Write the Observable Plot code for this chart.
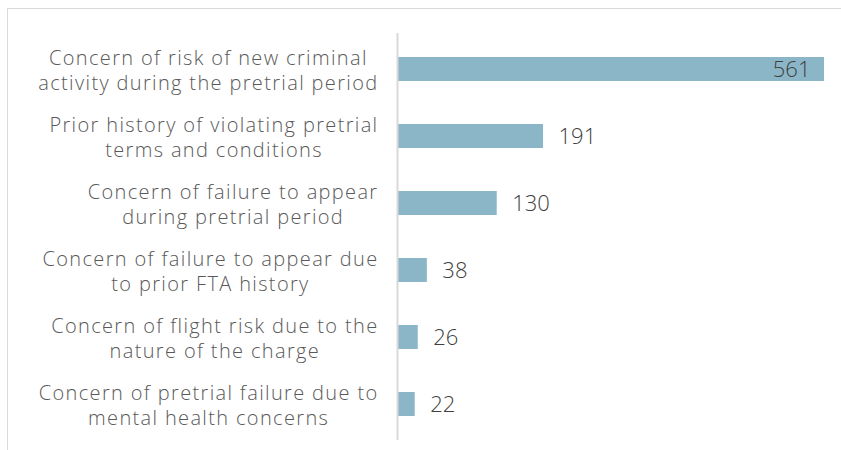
<!DOCTYPE html>
<html>
<head>
<meta charset="utf-8">
<script src="https://cdn.jsdelivr.net/npm/d3@7"></script>
<script src="https://cdn.jsdelivr.net/npm/@observablehq/plot@0.6"></script>
<style>
  html, body { margin: 0; padding: 0; background: #fff; }
  #wrap { position: relative; width: 841px; height: 450px; overflow: hidden; }
  #border { position: absolute; left: 7px; top: 8px; right: 0; bottom: 0;
            border-top: 1.5px solid #d9d9d9; border-left: 1.5px solid #d9d9d9; }
  #chart { position: absolute; left: 0; top: 0; }
  #chart g[aria-label="y-axis tick label"] { letter-spacing: 1.35px; }
</style>
</head>
<body>
<div id="wrap"><div id="border"></div><div id="chart"></div></div>
<script>
const categories = [
  "Concern of risk of new criminal\nactivity during the pretrial period",
  "Prior history of violating pretrial\nterms and conditions",
  "Concern of failure to appear\nduring pretrial period",
  "Concern of failure to appear due\nto prior FTA history",
  "Concern of flight risk due to the\nnature of the charge",
  "Concern of pretrial failure due to\nmental health concerns"
];
const values = [561, 191, 130, 38, 26, 22];

const data = categories.map((c, i) => ({category: c, value: values[i]}));
const FONT = "'Open Sans', sans-serif";

const chart = Plot.plot({
  width: 841,
  height: 450,
  marginLeft: 398,
  marginRight: 17,
  marginTop: 33,
  marginBottom: 10,
  style: {fontFamily: FONT, background: "transparent"},
  x: {domain: [0, 561], axis: null},
  y: {domain: categories, paddingInner: 0.645, paddingOuter: 0.3225, label: null},
  marks: [
    Plot.axisY({
      tickSize: 0,
      tickPadding: 20,
      fontSize: 20,
      lineHeight: 1.25,
      fill: "#595959",
      fontWeight: 300,
      label: null
    }),
    Plot.barX(data, {x: "value", y: "category", fill: "#8ab6c7"}),
    Plot.ruleX([0], {stroke: "#d9d9d9", strokeWidth: 2, dx: -1}),
    Plot.text(data.filter(d => d.value < 500), {
      x: "value", y: "category", text: d => String(d.value),
      textAnchor: "start", dx: 15, fontSize: 22, fill: "#404040", fontWeight: 300
    }),
    Plot.text(data.filter(d => d.value >= 500), {
      x: "value", y: "category", text: d => String(d.value),
      textAnchor: "end", dx: -14, fontSize: 22, fill: "#404040", fontWeight: 300
    })
  ]
});
document.getElementById("chart").appendChild(chart);

// Center the lines of each multi-line category label within its right-aligned block
chart.querySelectorAll('g[aria-label="y-axis tick label"] text').forEach(t => {
  const w = t.getBBox().width;
  t.setAttribute("text-anchor", "middle");
  t.style.textAnchor = "middle";
  const tr = t.getAttribute("transform") || "";
  t.setAttribute("transform", tr + ` translate(${-w / 2},0)`);
});
</script>
</body>
</html>
